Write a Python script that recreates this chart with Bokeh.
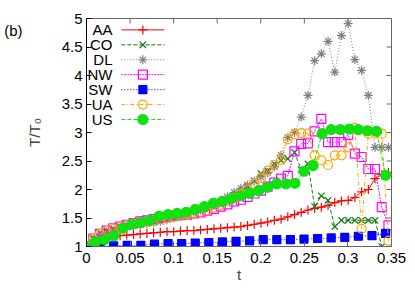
import math
from bokeh.plotting import figure
from bokeh.models import FixedTicker, LinearAxis, Range1d
from bokeh.core.properties import value
from bokeh.embed import file_html
from bokeh.resources import INLINE

# ---------------- data ----------------
T_FINE = [0.0, 0.0077, 0.0154, 0.0231, 0.0308, 0.0385, 0.0462, 0.0539, 0.0616, 0.0693,
          0.077, 0.0847, 0.0924, 0.1001, 0.1078, 0.1155, 0.1232, 0.1309, 0.1386, 0.1463,
          0.154, 0.1617, 0.1694, 0.1771, 0.1848, 0.1925, 0.2002, 0.2079, 0.2156, 0.2233,
          0.231, 0.2387, 0.2464, 0.2541, 0.2618, 0.2695, 0.2772, 0.2849, 0.2926, 0.3003,
          0.308, 0.3157, 0.3234, 0.3311, 0.3388, 0.3465]
T_SW = [0.0, 0.0156, 0.0312, 0.0468, 0.0624, 0.078, 0.0936, 0.1092, 0.1248, 0.1404,
        0.156, 0.1716, 0.1872, 0.2028, 0.2184, 0.234, 0.2496, 0.2652, 0.2808, 0.2964,
        0.312, 0.3276, 0.3432]
T_US = [0.0, 0.0104, 0.0208, 0.0312, 0.0416, 0.052, 0.0624, 0.0728, 0.0832, 0.0936,
        0.104, 0.1144, 0.1248, 0.1352, 0.1456, 0.156, 0.1664, 0.1768, 0.1872, 0.1976,
        0.208, 0.2184, 0.2288, 0.2392, 0.2496, 0.26, 0.2704, 0.2808, 0.2912, 0.3016,
        0.312, 0.3224, 0.3328, 0.3432]

AA = [1.0, 1.1, 1.14, 1.16, 1.18, 1.19, 1.2, 1.21, 1.22, 1.23,
      1.24, 1.25, 1.26, 1.26, 1.27, 1.28, 1.28, 1.29, 1.3, 1.31,
      1.32, 1.33, 1.34, 1.35, 1.37, 1.39, 1.41, 1.43, 1.46, 1.48,
      1.52, 1.56, 1.6, 1.64, 1.67, 1.69, 1.72, 1.77, 1.8, 1.81,
      1.86, 1.96, 2.0, 2.19, 2.26, 2.3]
CO = [1.0, 1.15, 1.24, 1.28, 1.31, 1.34, 1.37, 1.4, 1.43, 1.46,
      1.48, 1.5, 1.52, 1.54, 1.57, 1.6, 1.62, 1.65, 1.68, 1.72,
      1.76, 1.82, 1.88, 1.95, 2.05, 2.15, 2.28, 2.33, 2.45, 2.51,
      2.54, 2.65, 2.35, 2.45, 1.7, 1.89, 1.81, 1.35, 1.46, 1.46,
      1.46, 1.46, 1.46, 1.46, 1.0]
DL = [1.0, 1.12, 1.2, 1.25, 1.28, 1.31, 1.34, 1.36, 1.38, 1.4,
      1.42, 1.44, 1.47, 1.5, 1.53, 1.56, 1.6, 1.64, 1.68, 1.73,
      1.8, 1.87, 1.95, 2.02, 2.08, 2.15, 2.22, 2.3, 2.4, 2.6,
      2.91, 3.0, 3.27, 3.65, 4.26, 4.38, 4.6, 4.06, 4.7, 4.91,
      4.28, 4.09, 3.65, 2.74, 2.74, 2.74]
NW = [1.0, 1.14, 1.22, 1.28, 1.32, 1.35, 1.38, 1.41, 1.44, 1.46,
      1.48, 1.5, 1.52, 1.54, 1.55, 1.56, 1.58, 1.6, 1.63, 1.66,
      1.7, 1.74, 1.79, 1.82, 1.87, 1.93, 1.98, 2.05, 2.12, 2.19,
      2.24, 2.67, 2.8, 2.81, 3.02, 3.24, 2.83, 2.83, 2.83, 2.96,
      2.63, 2.57, 2.36, 2.36, 1.69, 1.37]
SW = [1.0, 1.0, 1.01, 1.02, 1.02, 1.04, 1.05, 1.05, 1.06, 1.07,
      1.08, 1.09, 1.1, 1.12, 1.12, 1.12, 1.13, 1.14, 1.15, 1.16,
      1.18, 1.19, 1.23]
UA = [1.0, 1.13, 1.22, 1.27, 1.31, 1.34, 1.37, 1.4, 1.42, 1.44,
      1.46, 1.48, 1.5, 1.52, 1.54, 1.56, 1.58, 1.61, 1.64, 1.68,
      1.73, 1.79, 1.85, 1.92, 2.0, 2.1, 2.2, 2.33, 2.43, 2.52,
      2.88, 2.97, 2.99, 2.98, 2.6, 2.51, 2.43, 2.6, 2.6, 2.74,
      3.08, 1.31, 2.98, 2.98, 2.98, 1.1]
US = [1.0, 1.08, 1.12, 1.19, 1.32, 1.39, 1.42, 1.46, 1.53, 1.56,
      1.58, 1.6, 1.65, 1.7, 1.76, 1.79, 1.84, 1.89, 1.93, 1.98,
      2.04, 2.1, 2.1, 2.11, 2.32, 2.42, 2.98, 3.05, 3.05, 3.06,
      3.05, 3.03, 3.02, 2.25]

NAMES = ["AA", "CO", "DL", "NW", "SW", "UA", "US"]
X_TICKS = [0, 0.05, 0.1, 0.15, 0.2, 0.25, 0.3, 0.35]
X_LABELS = ["0", "0.05", "0.1", "0.15", "0.2", "0.25", "0.3", "0.35"]
Y_TICKS = [1, 1.5, 2, 2.5, 3, 3.5, 4, 4.5, 5]
Y_LABELS = ["1", "1.5", "2", "2.5", "3", "3.5", "4", "4.5", "5"]
X_MIN, X_MAX, Y_MIN, Y_MAX = 0, 0.35, 1, 5
PANEL_TAG = "(b)"
X_TITLE = "t"
Y_TITLE = "T/T\u2080"

# ---------------- styles ----------------
FONT = "Liberation Sans"
STYLES = {
    "AA": dict(t=T_FINE[:len(AA)], v=AA, color="#ff0000", dash="solid", marker="cross", size=9, fill=False),
    "CO": dict(t=T_FINE[:len(CO)], v=CO, color="#117a11", dash="4 2", marker="x", size=9, fill=False),
    "DL": dict(t=T_FINE[:len(DL)], v=DL, color="#808080", dash="1 2", marker="asterisk", size=9, fill=False),
    "NW": dict(t=T_FINE[:len(NW)], v=NW, color="#ff00ff", dash="2 1", marker="square", size=9, fill=False),
    "SW": dict(t=T_SW, v=SW, color="#0000ff", dash="1 2", marker="square", size=8, fill=True),
    "UA": dict(t=T_FINE[:len(UA)], v=UA, color="#ffa500", dash="4 2 1 2", marker="circle", size=9, fill=False),
    "US": dict(t=T_US, v=US, color="#11e011", dash="4 2", marker="circle", size=10, fill=True),
}

W, H = 408, 288
FL, FR, FT, FB = 86, 17, 18, 42          # frame borders in px
FW, FH = W - FL - FR, H - FT - FB         # frame size in px
p = figure(width=W, height=H, x_range=Range1d(X_MIN, X_MAX), y_range=Range1d(Y_MIN, Y_MAX),
           output_backend="svg", toolbar_location=None,
           min_border_left=FL, min_border_right=FR, min_border_top=FT, min_border_bottom=FB)
p.xgrid.visible = False
p.ygrid.visible = False
p.outline_line_color = "#666666"
p.background_fill_color = "white"
p.border_fill_color = "white"


def style_axis(ax, ticks, labels, line_color, standoff):
    ax.ticker = FixedTicker(ticks=ticks)
    ax.major_label_overrides = {k: lab for k, lab in zip(ticks, labels)}
    ax.major_tick_in = 5
    ax.major_tick_out = 0
    ax.minor_tick_in = 0
    ax.minor_tick_out = 0
    ax.axis_line_color = line_color
    ax.major_tick_line_color = line_color
    ax.major_label_text_font = FONT
    ax.major_label_text_color = "black"
    ax.major_label_text_font_size = "15px"
    ax.major_label_standoff = standoff


style_axis(p.xaxis[0], X_TICKS, X_LABELS, "#666666", 6)
style_axis(p.yaxis[0], Y_TICKS, Y_LABELS, "#000000", 4)
p.xaxis[0].axis_label = X_TITLE
p.xaxis[0].axis_label_text_font = FONT
p.xaxis[0].axis_label_text_font_size = "15px"
p.xaxis[0].axis_label_text_font_style = "normal"
p.xaxis[0].axis_label_standoff = 0
p.yaxis[0].axis_label = Y_TITLE
p.yaxis[0].axis_label_text_font = FONT
p.yaxis[0].axis_label_text_font_size = "15px"
p.yaxis[0].axis_label_text_font_style = "normal"
p.yaxis[0].axis_label_standoff = 16

# panel tag "(b)" drawn as the only label of an invisible outer left axis
tag_y = 4.79
tag_axis = LinearAxis(ticker=FixedTicker(ticks=[tag_y]), major_label_overrides={tag_y: PANEL_TAG})
tag_axis.axis_line_color = None
tag_axis.major_tick_line_color = None
tag_axis.minor_tick_line_color = None
tag_axis.major_label_text_font = FONT
tag_axis.major_label_text_font_size = "15px"
tag_axis.major_label_text_color = "black"
tag_axis.major_label_standoff = -6
p.add_layout(tag_axis, "left")

# mirrored inward ticks on top and right border (5 px long)
dy_tick = 5 * (Y_MAX - Y_MIN) / FH
dx_tick = 5 * (X_MAX - X_MIN) / FW
p.segment(x0=X_TICKS, y0=[Y_MAX] * len(X_TICKS), x1=X_TICKS, y1=[Y_MAX - dy_tick] * len(X_TICKS),
          line_color="#666666", line_width=1)
p.segment(x0=[X_MAX] * len(Y_TICKS), y0=Y_TICKS, x1=[X_MAX - dx_tick] * len(Y_TICKS), y1=Y_TICKS,
          line_color="#666666", line_width=1)

# ---------------- series ----------------
for name in NAMES:
    s = STYLES[name]
    p.line(s["t"], s["v"], line_color=s["color"], line_dash=s["dash"], line_width=1)
    p.scatter(s["t"], s["v"], marker=s["marker"], size=s["size"], line_color=s["color"],
              fill_color=s["color"] if s["fill"] else None, line_width=1.2)

# ---------------- legend (gnuplot style: label left, sample right) ----------------
leg_text_x = 0.0298
leg_x0, leg_x1, leg_xm = 0.040, 0.0895, 0.0647
leg_y0, leg_dy = 4.80, 0.262
for k, name in enumerate(NAMES):
    s = STYLES[name]
    yy = leg_y0 - k * leg_dy
    p.line([leg_x0, leg_x1], [yy, yy], line_color=s["color"], line_dash=s["dash"], line_width=1)
    p.scatter([leg_xm], [yy], marker=s["marker"], size=s["size"], line_color=s["color"],
              fill_color=s["color"] if s["fill"] else None, line_width=1.2)
p.text(x=[leg_text_x] * len(NAMES), y=[leg_y0 - k * leg_dy for k in range(len(NAMES))],
       text=NAMES, text_align="right", text_baseline="middle",
       text_font=value(FONT), text_font_size="15px", text_color="black")

open("out.html", "w").write(file_html(p, INLINE))
